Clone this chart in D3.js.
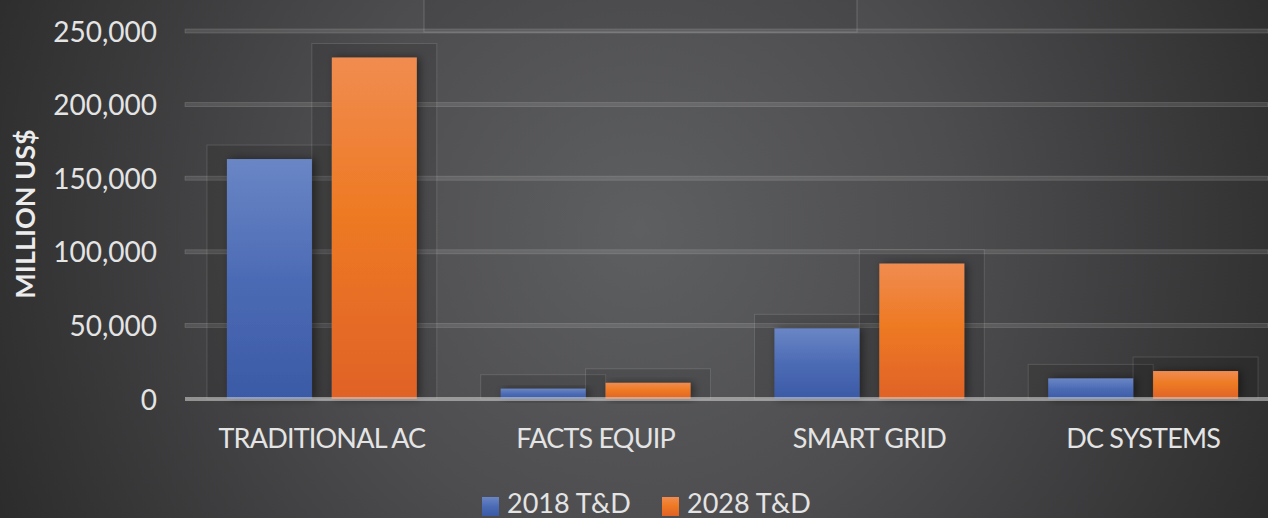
<!DOCTYPE html>
<html>
<head>
<meta charset="utf-8">
<script src="https://cdn.jsdelivr.net/npm/d3@7"></script>
<style>
  html, body { margin: 0; padding: 0; background: #3a3a3b; overflow: hidden; }
  svg text { font-family: Lato, "Open Sans", sans-serif; fill: #e4e4e4; }
</style>
</head>
<body>
<div id="chart"></div>
<script>
// chart data
var categories = ["TRADITIONAL AC", "FACTS EQUIP", "SMART GRID", "DC SYSTEMS"];
var seriesNames = ["2018 T&D", "2028 T&D"];
var values2018 = [163000, 7000, 48000, 14000];
var values2028 = [232000, 11000, 92000, 19000];
var yTicks = [0, 50000, 100000, 150000, 200000, 250000];

var width = 1268,
    height = 518;

var svg = d3.select("#chart")
    .append("svg")
    .attr("width", width)
    .attr("height", height);

var defs = svg.append("defs");

// background glow
var bg = defs.append("radialGradient")
    .attr("id", "bg")
    .attr("gradientUnits", "userSpaceOnUse")
    .attr("cx", 640).attr("cy", 230).attr("r", 700);
bg.append("stop").attr("offset", "0%").attr("stop-color", "#5e5f61");
bg.append("stop").attr("offset", "45%").attr("stop-color", "#4d4d4f");
bg.append("stop").attr("offset", "100%").attr("stop-color", "#2c2c2d");

var blueGrad = defs.append("linearGradient").attr("id", "blue").attr("x1", 0).attr("y1", 0).attr("x2", 0).attr("y2", 1);
blueGrad.append("stop").attr("offset", "0%").attr("stop-color", "#6a86c5");
blueGrad.append("stop").attr("offset", "50%").attr("stop-color", "#4c6bb5");
blueGrad.append("stop").attr("offset", "100%").attr("stop-color", "#3b5aa6");

var orangeGrad = defs.append("linearGradient").attr("id", "orange").attr("x1", 0).attr("y1", 0).attr("x2", 0).attr("y2", 1);
orangeGrad.append("stop").attr("offset", "0%").attr("stop-color", "#f08c50");
orangeGrad.append("stop").attr("offset", "45%").attr("stop-color", "#ee7a24");
orangeGrad.append("stop").attr("offset", "100%").attr("stop-color", "#e06226");

var shadow = defs.append("filter").attr("id", "shadow")
    .attr("x", "-30%").attr("y", "-30%").attr("width", "160%").attr("height", "160%");
shadow.append("feDropShadow")
    .attr("dx", 3).attr("dy", 0).attr("stdDeviation", 4)
    .attr("flood-color", "#000").attr("flood-opacity", 0.45);

svg.append("rect")
    .attr("width", width).attr("height", height)
    .attr("fill", "url(#bg)");

// scales
var x = d3.scaleBand()
    .domain(categories)
    .range([185, 1280])
    .padding(0);

var xs = d3.scaleBand()
    .domain(seriesNames)
    .range([0, x.bandwidth()])
    .paddingInner(0.19)
    .paddingOuter(0.4);

var y = d3.scaleLinear()
    .domain([0, 250000])
    .range([399, 31]);

var fills = ["url(#blue)", "url(#orange)"];

var rows = categories.map(function(c, i) {
    return { cat: c, vals: [values2018[i], values2028[i]] };
});

// faint title box at top
svg.append("rect")
    .attr("x", 424).attr("y", -2)
    .attr("width", 433).attr("height", 34)
    .attr("fill", "rgba(0,0,0,0.07)")
    .attr("stroke", "rgba(255,255,255,0.18)")
    .attr("stroke-width", 1);

// gridlines
var grid = svg.append("g").attr("class", "grid");
grid.selectAll("rect")
    .data(yTicks.filter(function(t) { return t > 0; }))
    .enter().append("rect")
    .attr("x", 185)
    .attr("y", function(d) { return y(d) - 2; })
    .attr("width", width - 185)
    .attr("height", 4)
    .attr("fill", "rgba(200,200,200,0.16)")
    .attr("stroke", "rgba(210,210,210,0.22)")
    .attr("stroke-width", 0.8);

// bars
var groups = svg.append("g")
    .selectAll("g")
    .data(rows)
    .enter().append("g")
    .attr("transform", function(d) { return "translate(" + x(d.cat) + ",0)"; });

// ghost frames behind bars
groups.selectAll("rect.frame")
    .data(function(d) { return d.vals; })
    .enter().append("rect")
    .attr("class", "frame")
    .attr("x", function(d, i) { return xs(seriesNames[i]) - 20; })
    .attr("y", function(d) { return y(d) - 14; })
    .attr("width", xs.bandwidth() + 40)
    .attr("height", function(d) { return y(0) - y(d) + 14; })
    .attr("fill", "rgba(0,0,0,0.1)")
    .attr("stroke", "rgba(255,255,255,0.13)")
    .attr("stroke-width", 1);

groups.selectAll("rect.bar")
    .data(function(d) { return d.vals; })
    .enter().append("rect")
    .attr("class", "bar")
    .attr("x", function(d, i) { return xs(seriesNames[i]); })
    .attr("y", function(d) { return y(d); })
    .attr("width", xs.bandwidth())
    .attr("height", function(d) { return y(0) - y(d); })
    .attr("fill", function(d, i) { return fills[i]; })
    .attr("filter", "url(#shadow)");

// zero line drawn over the bars
svg.append("rect")
    .attr("x", 185).attr("y", y(0) - 2)
    .attr("width", width - 185).attr("height", 4)
    .attr("fill", "rgba(215,215,215,0.55)");

// y axis
var yAxis = d3.axisLeft(y)
    .tickValues(yTicks)
    .tickSize(0)
    .tickPadding(0)
    .tickFormat(d3.format(","));

var gy = svg.append("g")
    .attr("transform", "translate(157,0)")
    .call(yAxis);
gy.select(".domain").remove();
gy.selectAll("text")
    .attr("font-size", 28)
    .attr("dy", "0.36em")
    .style("fill", "#e4e4e4");

// x axis
var xAxis = d3.axisBottom(x).tickSize(0).tickPadding(0);
var gx = svg.append("g")
    .attr("transform", "translate(0,448)")
    .call(xAxis);
gx.select(".domain").remove();
gx.selectAll("text")
    .attr("dy", 0)
    .attr("font-size", 27)
    .attr("letter-spacing", "-0.8")
    .style("fill", "#e4e4e4");

// axis title
svg.append("text")
    .attr("transform", "translate(35,214) rotate(-90)")
    .attr("text-anchor", "middle")
    .attr("font-size", 27)
    .attr("font-weight", "bold")
    .style("fill", "#ececec")
    .text("MILLION US$");

// legend
var legend = svg.append("g");
var legendX = [482, 662];
seriesNames.forEach(function(name, i) {
    legend.append("rect")
        .attr("x", legendX[i]).attr("y", 497)
        .attr("width", 17).attr("height", 19)
        .attr("fill", fills[i]);
    legend.append("text")
        .attr("x", legendX[i] + 25).attr("y", 513)
        .attr("font-size", 27)
        .text(name);
});
</script>
</body>
</html>
